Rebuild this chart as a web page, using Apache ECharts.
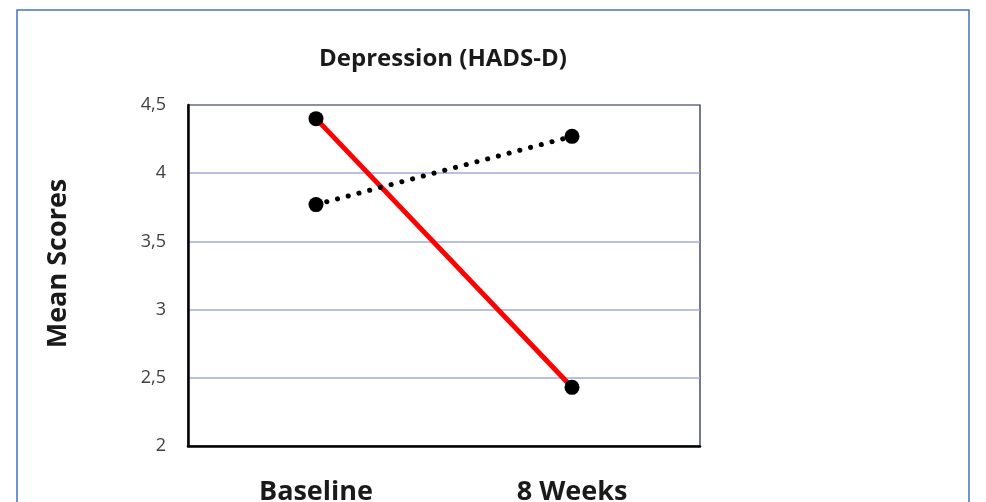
<!DOCTYPE html>
<html>
<head>
<meta charset="utf-8">
<script src="https://cdn.jsdelivr.net/npm/echarts@6/dist/echarts.min.js"></script>
<style>
  html, body { margin: 0; padding: 0; background: #ffffff; }
  #chart { width: 986px; height: 502px; }
</style>
</head>
<body>
<div id="chart"></div>
<script>
// HADS-D mean scores at the two assessment points
const categories = ['Baseline', '8 Weeks'];
const redSeries = [4.40, 2.43];
const dottedSeries = [3.77, 4.27];
const yTicks = { min: 2, max: 4.5, step: 0.5 };

const chart = echarts.init(document.getElementById('chart'), null, { renderer: 'canvas' });

const FONT = '"Open Sans", "Noto Sans", sans-serif';

chart.setOption({
  backgroundColor: '#ffffff',
  animation: false,
  title: {
    text: 'Depression (HADS-D)',
    left: 438,
    top: 42,
    textAlign: 'center',
    textStyle: { fontFamily: FONT, fontWeight: 'bold', fontSize: 24, color: '#1a1a1a' }
  },
  graphic: [{
    type: 'rect',
    shape: { x: 17, y: 10, width: 952, height: 510 },
    style: { fill: 'none', stroke: '#4472c4', lineWidth: 1.5 },
    silent: true
  }],
  grid: {
    left: 188, right: 286, top: 105, bottom: 56,
    containLabel: false,
    outerBoundsMode: 'none',
    show: true, borderColor: '#1c2340', borderWidth: 1.2, backgroundColor: 'transparent'
  },
  xAxis: {
    type: 'category',
    data: categories,
    boundaryGap: true,
    axisLine: { show: true, lineStyle: { color: '#000000', width: 2.5 } },
    axisTick: { show: false },
    axisLabel: {
      margin: 33,
      fontFamily: FONT, fontWeight: 'bold', fontSize: 27, color: '#1a1a1a'
    },
    splitLine: { show: false }
  },
  yAxis: {
    type: 'value',
    min: yTicks.min,
    max: yTicks.max,
    interval: yTicks.step,
    name: 'Mean Scores',
    nameLocation: 'middle',
    nameRotate: 90,
    nameGap: 116,
    nameTextStyle: {
      fontFamily: FONT, fontWeight: 'bold', fontSize: 27, color: '#1a1a1a',
      padding: [0, 0, 0, 24]
    },
    axisLine: { show: true, lineStyle: { color: '#000000', width: 2.5 } },
    axisTick: { show: false },
    axisLabel: {
      margin: 22,
      fontFamily: FONT, fontSize: 18, color: '#404040',
      formatter: v => String(v).replace('.', ',')
    },
    splitLine: {
      show: true, showMinLine: false, showMaxLine: false,
      lineStyle: { color: '#a3a9d8', width: 1.5 }
    }
  },
  series: [
    {
      name: 'Red',
      type: 'line',
      data: redSeries,
      symbol: 'circle',
      symbolSize: 15,
      itemStyle: { color: '#000000' },
      lineStyle: { color: '#ff0000', width: 5 },
      z: 3
    },
    {
      name: 'Dotted',
      type: 'line',
      data: dottedSeries,
      symbol: 'circle',
      symbolSize: 15,
      itemStyle: { color: '#000000' },
      lineStyle: { color: '#000000', width: 5, type: [0.1, 11], cap: 'round' },
      z: 4
    }
  ]
});
</script>
</body>
</html>
